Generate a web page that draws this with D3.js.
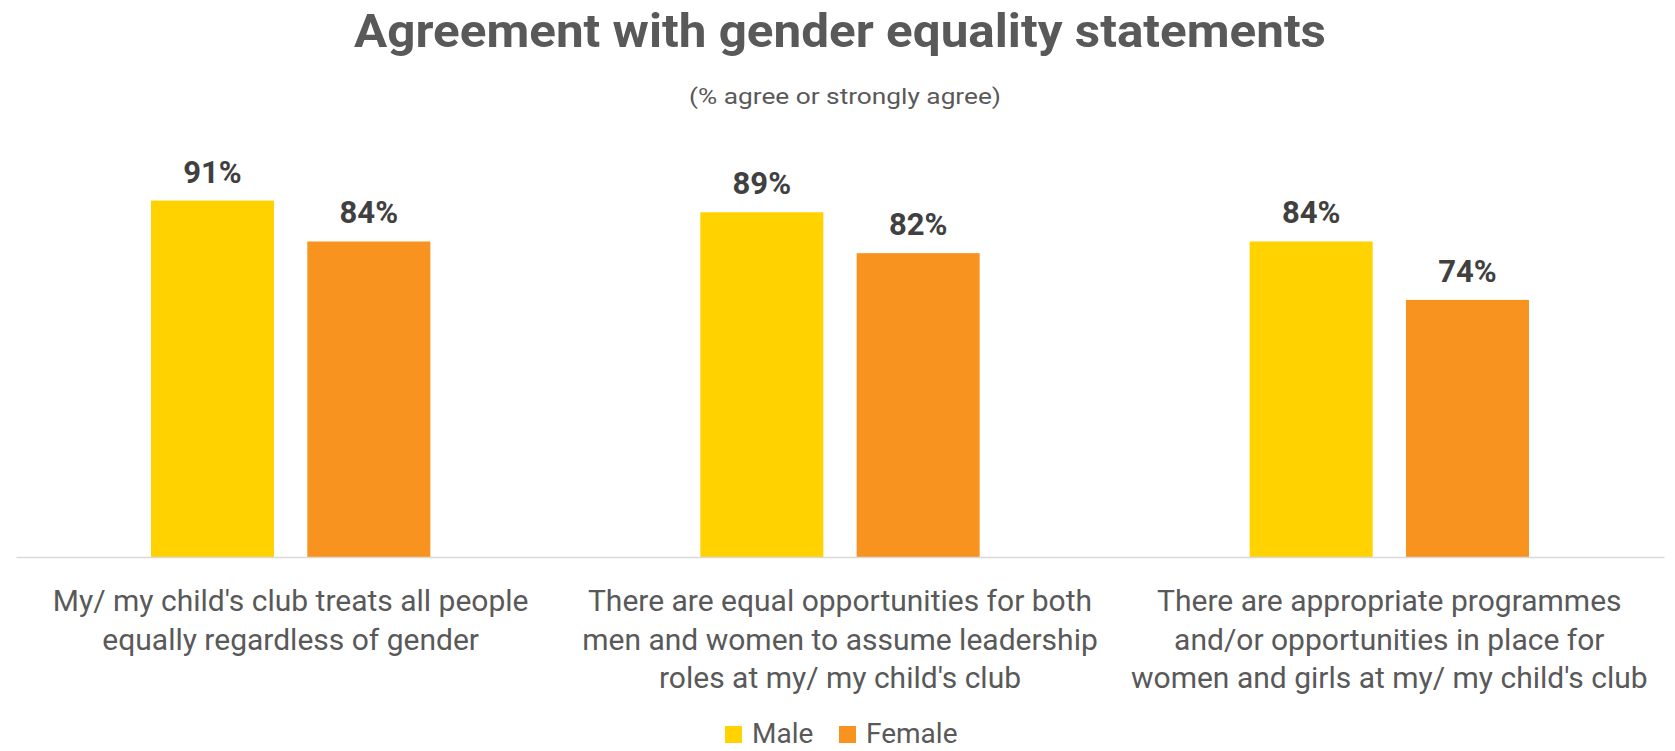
<!DOCTYPE html>
<html>
<head>
<meta charset="utf-8">
<script src="https://cdn.jsdelivr.net/npm/d3@7"></script>
<style>
  html, body { margin: 0; padding: 0; background: #ffffff; }
  svg { display: block; font-family: "Roboto", "Noto Sans", sans-serif; }
</style>
</head>
<body>
<svg id="chart" width="1675" height="751"></svg>
<script>
// Survey statements (wrapped as they appear under the axis)
const categories = [
  "My/ my child's club treats all people equally regardless of gender",
  "There are equal opportunities for both men and women to assume leadership roles at my/ my child's club",
  "There are appropriate programmes and/or opportunities in place for women and girls at my/ my child's club"
];
const categoryLines = [
  ["My/ my child's club treats all people", "equally regardless of gender"],
  ["There are equal opportunities for both", "men and women to assume leadership", "roles at my/ my child's club"],
  ["There are appropriate programmes", "and/or opportunities in place for", "women and girls at my/ my child's club"]
];
const series = ["Male", "Female"];
const maleValues = [91, 89, 84];
const femaleValues = [84, 82, 74];
const seriesColors = ["#FFD200", "#F7931E"];

const titleText = "Agreement with gender equality statements";
const subtitleText = "(% agree or strongly agree)";

const W = 1675, H = 751;
const plot = { left: 16, right: 1664, top: 148, bottom: 557 };

const svg = d3.select("#chart");

const valuesBySeries = [maleValues, femaleValues];
const rows = categories.map((c, i) => ({
  category: c,
  lines: categoryLines[i],
  values: series.map((s, j) => ({ series: s, value: valuesBySeries[j][i], color: seriesColors[j] }))
}));

const x0 = d3.scaleBand()
  .domain(categories)
  .range([plot.left, plot.right])
  .paddingInner(0.4915)
  .paddingOuter(0.2458);

const x1 = d3.scaleBand()
  .domain(series)
  .range([0, x0.bandwidth()])
  .paddingInner(0.213)
  .paddingOuter(0);

const y = d3.scaleLinear()
  .domain([30, 100])
  .range([plot.bottom, plot.top]);

// Title and subtitle
svg.append("text")
  .attr("x", 840).attr("y", 47)
  .attr("text-anchor", "middle")
  .attr("font-size", 47).attr("font-weight", 700)
  .attr("fill", "#595959")
  .attr("textLength", 972).attr("lengthAdjust", "spacingAndGlyphs")
  .text(titleText);

svg.append("text")
  .attr("x", 845).attr("y", 104)
  .attr("text-anchor", "middle")
  .attr("font-size", 22).attr("font-weight", 400)
  .attr("fill", "#595959")
  .attr("textLength", 312).attr("lengthAdjust", "spacingAndGlyphs")
  .text(subtitleText);

// Bars
const groups = svg.append("g").selectAll("g")
  .data(rows)
  .join("g")
  .attr("transform", d => `translate(${x0(d.category)},0)`);

groups.selectAll("rect")
  .data(d => d.values)
  .join("rect")
  .attr("x", d => x1(d.series))
  .attr("y", d => y(d.value))
  .attr("width", x1.bandwidth())
  .attr("height", d => y(30) - y(d.value))
  .attr("fill", d => d.color);

groups.selectAll("text.value")
  .data(d => d.values)
  .join("text")
  .attr("class", "value")
  .attr("x", d => x1(d.series) + x1.bandwidth() / 2)
  .attr("y", d => y(d.value) - 18)
  .attr("text-anchor", "middle")
  .attr("font-size", 31).attr("font-weight", 700)
  .attr("fill", "#404040")
  .text(d => d.value + "%");

// Baseline axis
const xAxis = d3.axisBottom(x0).tickSize(0).tickSizeOuter(0).tickFormat("");
const axisG = svg.append("g")
  .attr("transform", `translate(0,${plot.bottom})`)
  .call(xAxis);
axisG.select(".domain").attr("stroke", "#D9D9D9").attr("stroke-width", 1.5);
axisG.selectAll(".tick").remove();

// Category labels
const labelG = svg.append("g");
rows.forEach(r => {
  const cx = x0(r.category) + x0.bandwidth() / 2;
  const t = labelG.append("text")
    .attr("text-anchor", "middle")
    .attr("font-size", 30)
    .attr("fill", "#595959");
  r.lines.forEach((ln, k) => {
    t.append("tspan")
      .attr("x", cx)
      .attr("y", 611 + k * 38.5)
      .text(ln);
  });
});

// Legend
const legend = svg.append("g").attr("transform", "translate(725,726)");
const legendOffsets = [0, 114];
series.forEach((s, j) => {
  const g = legend.append("g").attr("transform", `translate(${legendOffsets[j]},0)`);
  g.append("rect").attr("width", 17).attr("height", 17).attr("fill", seriesColors[j]);
  g.append("text")
    .attr("x", 27).attr("y", 17)
    .attr("font-size", 28)
    .attr("fill", "#595959")
    .text(s);
});
</script>
</body>
</html>
